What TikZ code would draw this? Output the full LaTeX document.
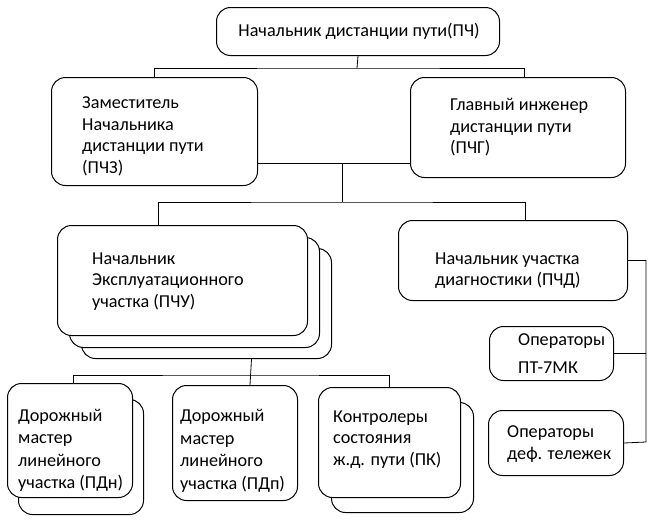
\documentclass[tikz,border=0pt]{standalone}
\usepackage{fontspec}
\setmainfont{Carlito}
\usepackage{tikz}

\begin{document}
\begin{tikzpicture}[x=1pt, y=-1pt,
        box/.style={draw, line width=1pt, rounded corners=14pt, fill=white, anchor=north west, inner sep=0pt},
        txt/.style={anchor=west, align=left, inner sep=0pt, font=\fontsize{18.2}{21.5}\selectfont},
        link/.style={draw, line width=0.8pt}]
        \useasboundingbox (0,0) rectangle (656,528);

        % shadow boxes behind the stacked ones
        \node[box, minimum width=250pt, minimum height=110pt] at (81,248) (pchuC) {};
        \node[box, minimum width=250pt, minimum height=110pt] at (69,237) (pchuB) {};
        \node[box, minimum width=125pt, minimum height=115pt] at (18,399) (pdnB) {};
        \node[box, minimum width=142pt, minimum height=110pt] at (331,402) (pkB) {};

        \node[box, minimum width=283pt, minimum height=48pt] at (216,7) (pch) {};
        \node[box, minimum width=206pt, minimum height=108pt] at (51,77) (pchz) {};
        \node[box, minimum width=215pt, minimum height=100pt] at (410,77) (pchg) {};
        \node[box, minimum width=250pt, minimum height=110pt] at (57,225) (pchu) {};
        \node[box, minimum width=229pt, minimum height=80pt] at (398,220) (pchd) {};
        \node[box, minimum width=125pt, minimum height=114pt] at (7,383) (pdn) {};
        \node[box, minimum width=125pt, minimum height=115pt] at (172,385) (pdp) {};
        \node[box, minimum width=142pt, minimum height=110pt] at (318,387) (pk) {};
        \node[box, minimum width=124pt, minimum height=54pt] at (489,326) (pt) {};
        \node[box, minimum width=135pt, minimum height=65pt] at (488,410) (def) {};

        \node[txt, anchor=center] at ([xshift=1pt]pch.center) (pchT) {Начальник дистанции пути(ПЧ)};
        \node[txt] at ([xshift=31pt, yshift=-5pt]pchz.west) (pchzT) {Заместитель\\Начальника\\дистанции пути\\(ПЧЗ)};
        \node[txt] at ([xshift=40pt]pchg.west) (pchgT) {Главный инженер\\дистанции пути\\(ПЧГ)};
        \node[txt] at ([xshift=35pt, yshift=-1pt]pchu.west) (pchuT) {Начальник\\Эксплуатационного\\участка (ПЧУ)};
        \node[txt] at ([xshift=37pt, yshift=-10pt]pchd.west) (pchdT) {Начальник участка\\диагностики (ПЧД)};
        \node[txt, font=\fontsize{18.2}{22.5}\selectfont] at ([xshift=11pt, yshift=-10pt]pdn.west) (pdnT) {Дорожный\\мастер\\линейного\\участка (ПДн)};
        \node[txt, font=\fontsize{18.2}{22.5}\selectfont] at ([xshift=8pt, yshift=-8pt]pdp.west) (pdpT) {Дорожный\\мастер\\линейного\\участка (ПДп)};
        \node[txt] at ([xshift=15pt, yshift=3pt]pk.west) (pkT) {Контролеры\\состояния\\ж.д. пути (ПК)};
        \node[txt, font=\fontsize{18.2}{28}\selectfont] at ([xshift=29pt]pt.west) (ptT) {Операторы\\ПТ-7МК};
        \node[txt] at ([xshift=19pt, yshift=-1pt]def.west) (defT) {Операторы\\деф. тележек};

        % junctions
        \coordinate (j1) at (357,68);
        \coordinate (j2) at (342,163);
        \coordinate (j3) at (342,202);
        \coordinate (j4) at (250,375);
        \coordinate (j5) at (646,442);

        \draw[link] (pch.south) -- (j1);
        \draw[link] (pchz.north) |- (j1) -| ([xshift=6pt]pchg.north);
        \draw[link] (pchz.east |- j2) -- (pchg.west |- j2);
        \draw[link] (j2) -- (j3);
        \draw[link] ([xshift=-24pt]pchu.north) |- (j3) -| ([xshift=12pt]pchd.north);
        \draw[link] ([xshift=45pt]pchuC.south) -- ([xshift=15pt]pdp.north);
        \draw[link] ([xshift=3pt]pdn.north) |- (j4) -| (pk.north);
        \draw[link] (pchd.east) -| (j5) -- (def.east);
        \draw[link] (pt.east) -- (pt.east -| j5);
    \end{tikzpicture}
\end{document}
